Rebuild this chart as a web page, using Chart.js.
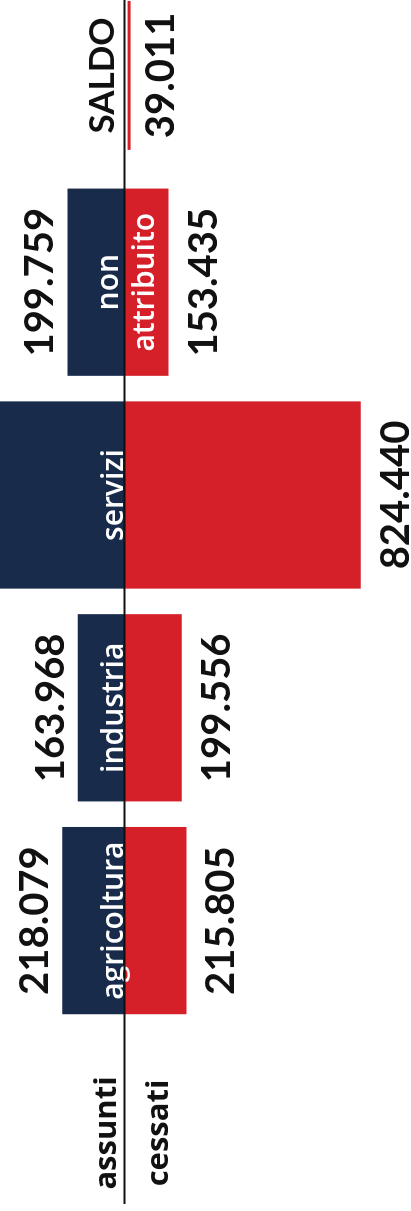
<!DOCTYPE html>
<html>
<head>
<meta charset="utf-8">
<script src="https://cdn.jsdelivr.net/npm/chart.js@4"></script>
<style>
html, body { margin: 0; padding: 0; background: #fff; overflow: hidden; }
#wrap { position: relative; width: 411px; height: 1211px; overflow: hidden; }
/* the chart is drawn lying down and turned a quarter to the left */
#c { position: absolute; left: 0; top: 0; transform-origin: 0 0; transform: translate(0, 1211px) rotate(-90deg); }
</style>
</head>
<body>
<div id="wrap"><canvas id="c" width="1250" height="411"></canvas></div>
<script>
const settori = ["agricoltura", "industria", "servizi", ["non", "attribuito"], "SALDO"];
const assunti = [218079, 163968, 850441, 199759, null];
const cessati = [215805, 199556, 824440, 153435, null];
const saldo = 39011;
const legenda = ["assunti", "cessati"];

const BLU = "#182b4b";
const ROSSO = "#d5202a";
const NERO = "#111111";

function fmt(v) {
    return String(v).replace(/\B(?=(\d{3})+(?!\d))/g, ".");
}

const etichette = {
    id: "etichette",
    afterDatasetsDraw(chart) {
        const ctx = chart.ctx;
        const xs = chart.scales.x;
        const zero = chart.scales.y.getPixelForValue(0);
        const barA = chart.getDatasetMeta(0).data;
        const barC = chart.getDatasetMeta(1).data;

        ctx.save();
        ctx.textAlign = "center";
        ctx.textBaseline = "alphabetic";

        // values above / below the bars
        ctx.fillStyle = NERO;
        ctx.font = "700 40px Lato";
        assunti.forEach((v, i) => {
            if (v == null) return;
            ctx.fillText(fmt(v), barA[i].x, barA[i].y - 14);
        });
        cessati.forEach((v, i) => {
            if (v == null) return;
            ctx.fillText(fmt(v), barC[i].x, barC[i].y + 48);
        });

        // sector names inside the bars
        ctx.fillStyle = "#ffffff";
        ctx.font = "600 30px 'Open Sans'";
        settori.forEach((s, i) => {
            if (s === "SALDO") return;
            const cx = xs.getPixelForValue(i);
            if (Array.isArray(s)) {
                ctx.fillText(s[0], cx, zero - 7);
                ctx.fillText(s[1], cx, zero + 29);
            } else {
                ctx.fillText(s, cx, zero - 2);
            }
        });

        // saldo
        const si = settori.indexOf("SALDO");
        const sx = xs.getPixelForValue(si) - 6;
        const half = (xs.getPixelForValue(1) - xs.getPixelForValue(0)) * 0.35;
        ctx.fillStyle = ROSSO;
        ctx.fillRect(sx - half, zero + 3, half * 2, 3);
        ctx.fillStyle = NERO;
        ctx.font = "700 35px Lato";
        ctx.fillText("SALDO", sx, zero - 11);
        ctx.font = "700 40px Lato";
        ctx.fillText(fmt(saldo), sx, zero + 49);

        // legend words at the start of the axis
        const lx = chart.chartArea.left - 106;
        ctx.font = "700 31px 'Open Sans'";
        ctx.fillText(legenda[0], lx, zero - 9);
        ctx.fillText(legenda[1], lx, zero + 43);

        // axis
        ctx.strokeStyle = NERO;
        ctx.lineWidth = 2;
        ctx.beginPath();
        ctx.moveTo(7, zero);
        ctx.lineTo(chart.width, zero);
        ctx.stroke();
        ctx.restore();
    }
};

new Chart(document.getElementById("c"), {
    type: "bar",
    data: {
        labels: settori.map(s => Array.isArray(s) ? s.join(" ") : s),
        datasets: [
            {
                label: legenda[0],
                data: assunti,
                backgroundColor: BLU,
                barPercentage: 0.88,
                categoryPercentage: 1
            },
            {
                label: legenda[1],
                data: cessati.map(v => v == null ? null : -v),
                backgroundColor: ROSSO,
                barPercentage: 0.88,
                categoryPercentage: 1
            }
        ]
    },
    options: {
        responsive: false,
        animation: false,
        layout: { padding: { left: 184, right: 2, top: 0, bottom: 0 } },
        plugins: {
            legend: { display: false },
            tooltip: { enabled: false }
        },
        scales: {
            x: { stacked: true, display: false },
            y: { stacked: true, display: false, min: -1000000, max: 435000 }
        }
    },
    plugins: [etichette]
});
</script>
</body>
</html>
